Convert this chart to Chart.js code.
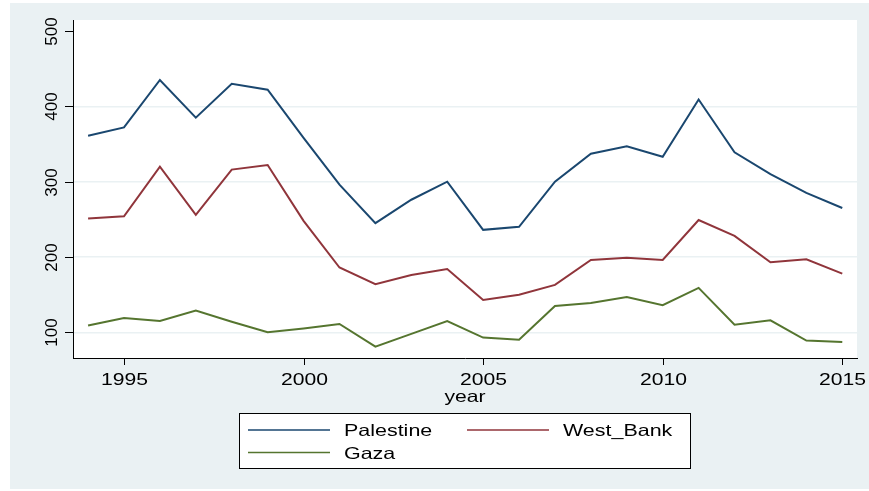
<!DOCTYPE html>
<html>
<head>
<meta charset="utf-8">
<title>Palestine, West Bank and Gaza by year</title>
<script src="https://cdn.jsdelivr.net/npm/chart.js@4/dist/chart.umd.min.js"></script>
<style>
    html, body { margin: 0; padding: 0; background: #ffffff; }
    #wrap { width: 869px; height: 491px; }
</style>
</head>
<body>
<div id="wrap"><canvas id="chart" width="869" height="491"></canvas></div>
<script>
"use strict";

const years = [1994, 1995, 1996, 1997, 1998, 1999, 2000, 2001, 2002, 2003, 2004,
    2005, 2006, 2007, 2008, 2009, 2010, 2011, 2012, 2013, 2014, 2015];
const palestine = [361, 372, 435, 385, 430, 422, 358, 296, 245, 276, 300,
    236, 240, 300, 337, 347, 333, 409, 339, 310, 285, 265];
const westBank = [251, 254, 320, 256, 316, 322, 248, 186, 164, 176, 184,
    143, 150, 163, 196, 199, 196, 249, 228, 193, 197, 178];
const gaza = [109, 119, 115, 129, 114, 100, 105, 111, 81, 98, 115,
    93, 90, 135, 139, 147, 136, 159, 110, 116, 89, 87];
const xTicks = [1995, 2000, 2005, 2010, 2015];
const yTicks = [100, 200, 300, 400, 500];

const BG = "#eaf1f3";
const FONT = "\"Liberation Sans\", Arial, sans-serif";

const toPoints = (vals) => vals.map((v, i) => ({ x: years[i], y: v }));

// draws text squeezed/stretched horizontally, the way the Stata export looks
function wideText(ctx, text, x, y, align, sx) {
    ctx.save();
    ctx.translate(x, y);
    ctx.scale(sx, 1);
    ctx.textAlign = align;
    ctx.textBaseline = "alphabetic";
    ctx.fillText(text, 0, 0);
    ctx.restore();
}

const stataFrame = {
    id: "stataFrame",
    beforeDraw(chart) {
        const { ctx, chartArea: a } = chart;
        ctx.save();
        ctx.fillStyle = "#ffffff";
        ctx.fillRect(0, 0, chart.width, chart.height);
        ctx.fillStyle = BG;
        ctx.fillRect(10, 3, 859, 486);
        ctx.fillStyle = "#ffffff";
        ctx.fillRect(a.left, a.top, a.right - a.left, a.bottom - a.top);
        ctx.restore();
    },
    afterDraw(chart) {
        const { ctx, chartArea: a } = chart;
        const xs = chart.scales.x;
        const ys = chart.scales.y;
        ctx.save();
        ctx.strokeStyle = "#000000";
        ctx.fillStyle = "#000000";
        ctx.lineWidth = 1;

        // y ticks + rotated labels
        ctx.font = "17px " + FONT;
        yTicks.forEach((v) => {
            const py = Math.round(ys.getPixelForValue(v)) + 0.5;
            ctx.beginPath();
            ctx.moveTo(a.left - 8, py);
            ctx.lineTo(a.left, py);
            ctx.stroke();
            ctx.save();
            ctx.translate(57, py);
            ctx.rotate(-Math.PI / 2);
            ctx.textAlign = "center";
            ctx.textBaseline = "alphabetic";
            ctx.fillText(String(v), 0, 0);
            ctx.restore();
        });

        // x ticks + labels
        ctx.font = "16.5px " + FONT;
        xTicks.forEach((v) => {
            const px = Math.round(xs.getPixelForValue(v)) + 0.5;
            ctx.beginPath();
            ctx.moveTo(px, a.bottom);
            ctx.lineTo(px, a.bottom + 7);
            ctx.stroke();
            wideText(ctx, String(v), px, 384.5, "center", 1.28);
        });
        wideText(ctx, "year", (a.left + a.right) / 2, 402, "center", 1.28);

        // legend box
        ctx.fillStyle = "#ffffff";
        ctx.fillRect(239, 413, 451, 55);
        ctx.strokeStyle = "#000000";
        ctx.strokeRect(239.5, 413.5, 451, 55);
        const slots = [
            { lx: 248, tx: 344, y: 430, by: 436 },
            { lx: 467, tx: 563, y: 430, by: 436 },
            { lx: 248, tx: 344, y: 452.5, by: 458.5 }
        ];
        chart.data.datasets.forEach((ds, i) => {
            const s = slots[i];
            ctx.strokeStyle = ds.borderColor;
            ctx.lineWidth = 1.5;
            ctx.beginPath();
            ctx.moveTo(s.lx, s.y);
            ctx.lineTo(s.lx + 82, s.y);
            ctx.stroke();
            ctx.fillStyle = "#000000";
            ctx.font = "16.5px " + FONT;
            wideText(ctx, ds.label, s.tx, s.by, "left", 1.3);
        });
        ctx.restore();
    }
};

const ctx = document.getElementById("chart").getContext("2d");
new Chart(ctx, {
    type: "line",
    data: {
        datasets: [
            { label: "Palestine", data: toPoints(palestine), borderColor: "#1a476f" },
            { label: "West_Bank", data: toPoints(westBank), borderColor: "#90353b" },
            { label: "Gaza", data: toPoints(gaza), borderColor: "#55752f" }
        ]
    },
    options: {
        responsive: false,
        animation: false,
        devicePixelRatio: 1,
        layout: { padding: { left: 73, top: 20, right: 12, bottom: 133 } },
        elements: {
            point: { radius: 0 },
            line: { borderWidth: 2, tension: 0, fill: false }
        },
        plugins: {
            legend: { display: false },
            tooltip: { enabled: false }
        },
        scales: {
            x: {
                type: "linear",
                min: 1993.58,
                max: 2015.41,
                afterBuildTicks: (s) => { s.ticks = xTicks.map((v) => ({ value: v })); },
                afterFit: (s) => { s.height = 0; },
                ticks: { display: false },
                grid: { display: false, drawTicks: false },
                border: { display: true, color: "#000000", width: 1 }
            },
            y: {
                min: 65.9,
                max: 514.6,
                afterBuildTicks: (s) => { s.ticks = yTicks.map((v) => ({ value: v })); },
                afterFit: (s) => { s.width = 0; },
                ticks: { display: false },
                grid: {
                    drawTicks: false,
                    lineWidth: 1.5,
                    color: (c) => (c.tick && c.tick.value === 500 ? "rgba(0,0,0,0)" : BG)
                },
                border: { display: true, color: "#000000", width: 1 }
            }
        }
    },
    plugins: [stataFrame]
});
</script>
</body>
</html>
